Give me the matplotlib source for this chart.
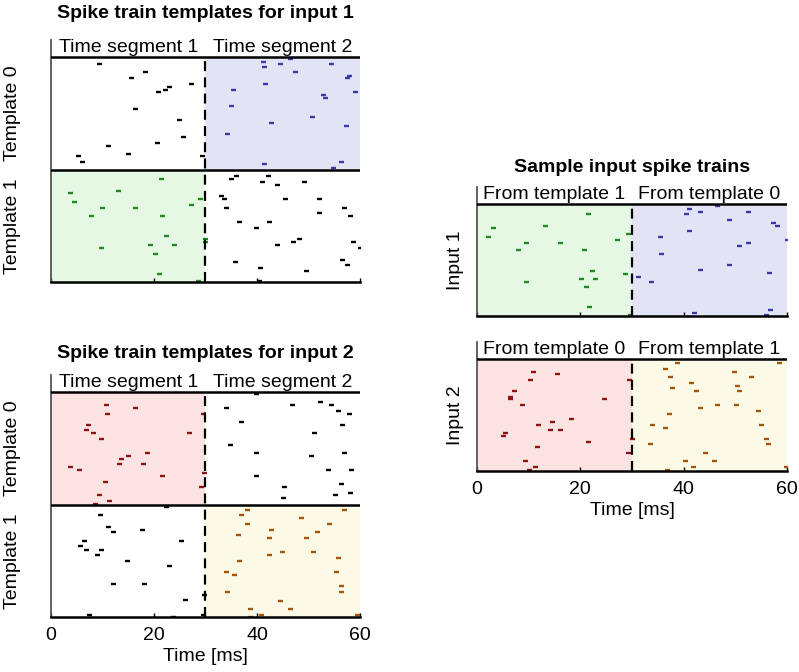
import numpy as np
import matplotlib.pyplot as plt

plt.rcParams['font.family'] = ['Liberation Sans', 'DejaVu Sans']
plt.rcParams['font.size'] = 14

# spikes as (time [ms], neuron row 0..40 inside one template band)
# input 1, template 0
in1_tmpl0_seg1 = [(9.4, 37.5), (18.3, 34.5), (15.5, 32.4), (27.1, 30.5), (22.9, 29.4),
                  (22.1, 28.4), (20.8, 27.5), (16.4, 21.4), (24.9, 17.7), (25.6, 11.6),
                  (20.6, 9.6), (11.0, 8.5), (15.0, 5.6), (5.2, 4.7), (6.1, 2.7), (29.4, 4.7)]
in1_tmpl0_seg2 = [(41.1, 38.4), (46.4, 39.4), (41.4, 36.4), (44.5, 37.4), (54.3, 37.4),
                  (47.4, 34.5), (57.9, 33.3), (57.5, 32.4), (41.6, 30.5), (35.3, 28.4),
                  (59.0, 27.5), (52.9, 26.4), (53.3, 25.5), (34.9, 22.5), (50.7, 18.5),
                  (42.8, 16.5), (57.3, 15.6), (34.2, 12.5), (56.4, 2.7), (41.3, 1.8),
                  (54.8, 0.7)]
# input 1, template 1
in1_tmpl1_seg1 = [(21.4, 36.6), (13.1, 32.5), (3.6, 31.5), (4.4, 28.5), (28.9, 29.4),
                  (27.1, 27.4), (10.0, 26.4), (16.3, 26.4), (7.8, 23.3), (21.6, 23.3),
                  (22.3, 16.2), (29.9, 15.2), (29.9, 14.2), (19.3, 13.2), (23.9, 13.2),
                  (9.7, 12.1), (20.1, 10.1), (21.0, 3.0), (28.5, 0.2)]
in1_tmpl1_seg2 = [(36.0, 37.6), (35.0, 36.6), (42.1, 37.6), (41.0, 35.5), (43.9, 34.6),
                  (49.2, 35.5), (33.1, 30.5), (33.6, 29.4), (45.4, 29.4), (52.0, 29.4),
                  (33.9, 26.4), (56.9, 26.4), (52.1, 24.4), (58.1, 23.3), (36.6, 21.2),
                  (42.4, 21.2), (39.8, 19.3), (48.1, 15.2), (47.0, 14.2), (43.9, 13.2),
                  (58.6, 14.2), (60.0, 12.1), (56.6, 8.0), (57.4, 6.1), (35.7, 7.1),
                  (40.5, 5.0), (49.6, 4.0), (40.4, 0.2)]
# input 2, template 0
in2_tmpl0_seg1 = [(10.7, 35.5), (16.3, 34.2), (10.9, 32.3), (29.6, 32.3), (7.1, 28.2),
                  (6.8, 26.4), (8.2, 25.3), (26.7, 25.3), (9.8, 23.4), (18.6, 18.2),
                  (15.0, 17.2), (13.6, 16.3), (13.3, 14.3), (17.9, 14.3), (3.6, 13.3),
                  (5.4, 12.3), (29.8, 11.2), (21.6, 10.3), (10.4, 8.1), (29.1, 6.3),
                  (9.4, 3.3), (11.3, 1.1), (8.6, 0.2)]
in2_tmpl0_seg2 = [(39.8, 39.3), (33.9, 34.2), (46.7, 35.4), (52.2, 36.5), (54.4, 35.4),
                  (55.7, 33.4), (57.8, 32.3), (36.8, 29.4), (56.5, 28.2), (51.1, 25.3),
                  (34.7, 21.2), (39.9, 18.2), (50.5, 17.2), (56.9, 18.2), (53.7, 12.3),
                  (58.2, 12.3), (39.8, 10.3), (56.4, 7.2), (45.2, 6.3), (58.0, 4.2),
                  (55.2, 3.3), (45.1, 2.2)]
# input 2, template 1
in2_tmpl1_seg1 = [(22.3, 39.2), (9.6, 36.2), (11.1, 32.1), (12.0, 30.1), (17.6, 31.1),
                  (6.4, 27.1), (25.2, 27.1), (5.6, 25.1), (6.8, 24.0), (9.8, 24.0),
                  (8.9, 22.0), (14.8, 20.0), (23.0, 18.0), (12.0, 11.9), (18.0, 11.9),
                  (29.8, 8.0), (26.1, 6.0), (7.4, 0.8), (23.6, 0.1), (29.6, 0.8)]
in2_tmpl1_seg2 = [(38.1, 38.2), (56.9, 38.2), (36.8, 36.2), (48.5, 35.1), (38.0, 33.2),
                  (53.9, 33.2), (42.7, 31.1), (51.6, 30.1), (36.4, 29.0), (42.3, 28.1),
                  (49.5, 28.1), (44.8, 23.1), (50.8, 23.1), (42.3, 22.0), (55.7, 21.1),
                  (36.6, 20.0), (33.9, 16.0), (35.5, 15.0), (55.3, 16.0), (56.3, 11.0),
                  (34.2, 8.9), (56.3, 8.9), (44.5, 5.8), (38.7, 2.9), (46.5, 2.9),
                  (40.8, 0.8), (38.6, 0.1), (59.4, 0.8)]
# sample input trains
sample1_seg1 = [(21.4, 36.3), (3.0, 31.3), (2.1, 28.1), (13.2, 32.2), (9.5, 26.2),
                (16.1, 26.2), (7.9, 23.4), (20.8, 23.4), (27.0, 27.2), (29.2, 29.2),
                (22.3, 16.2), (28.6, 15.1), (20.1, 13.2), (22.8, 13.2), (9.5, 12.2),
                (21.0, 10.2), (21.6, 3.2), (29.7, 0.2)]
sample1_seg2 = [(41.0, 38.2), (43.1, 37.2), (40.4, 36.3), (46.5, 39.2), (52.4, 37.2),
                (48.7, 34.3), (57.3, 33.3), (58.1, 32.2), (41.0, 30.2), (35.4, 28.1),
                (60.0, 27.2), (52.4, 26.2), (50.8, 25.1), (35.6, 22.2), (48.8, 18.2),
                (43.1, 16.3), (56.6, 15.2), (31.1, 14.1), (33.7, 12.2), (56.8, 2.2),
                (42.0, 1.2), (56.0, 0.2)]
sample2_seg1 = [(10.9, 35.5), (15.5, 34.5), (10.2, 32.5), (29.5, 32.5), (7.2, 28.4),
                (6.3, 26.5), (6.3, 25.6), (8.8, 23.5), (24.6, 25.6), (18.1, 18.5),
                (14.6, 17.6), (11.8, 16.5), (14.2, 14.6), (16.0, 14.6), (5.4, 13.4),
                (5.0, 12.5), (21.4, 10.5), (11.6, 8.5), (29.2, 6.6), (30.0, 11.6),
                (9.2, 3.5), (11.2, 1.6), (10.1, 0.5)]
sample2_seg2 = [(38.8, 38.4), (58.5, 38.4), (36.3, 36.4), (49.7, 35.5), (37.3, 33.4),
                (53.0, 33.4), (41.4, 31.5), (50.3, 30.4), (37.8, 29.5), (42.3, 28.4),
                (50.8, 28.4), (46.5, 23.5), (50.2, 23.5), (43.2, 22.4), (37.2, 20.5),
                (54.4, 21.5), (33.9, 16.5), (36.3, 15.5), (55.0, 16.5), (56.0, 11.6),
                (33.4, 9.6), (56.3, 9.6), (44.1, 6.6), (40.3, 3.5), (45.9, 3.5),
                (41.8, 1.6), (36.8, 0.5), (59.9, 1.6)]

BLUE, BLUE_BG = '#3a3aa6', '#e3e3f6'
GREEN, GREEN_BG = '#1f8a1f', '#e5f8e3'
RED, RED_BG = '#8e1414', '#fce3e3'
ORANGE, ORANGE_BG = '#a4560c', '#fbfae6'
HEADER = 6

W, H = 799, 672
fig = plt.figure(figsize=(W / 100, H / 100), dpi=100)


def add_axes(x0, x1, header_px, bottom_px, n_bands):
    top_px = header_px - HEADER * (bottom_px - header_px) / (40 * n_bands)
    return fig.add_axes([x0 / W, 1 - bottom_px / H, (x1 - x0) / W, (bottom_px - top_px) / H])


def setup(ax, n_bands, labels, show_labels):
    top = 40 * n_bands
    ax.set_xlim(0, 60)
    ax.set_ylim(0, top + HEADER)
    ax.spines['top'].set_visible(False)
    ax.spines['right'].set_visible(False)
    ax.spines['left'].set_color('#555555')
    ax.spines['left'].set_linewidth(1.3)
    ax.spines['bottom'].set_linewidth(1.8)
    for k in range(1, n_bands + 1):
        ax.axhline(40 * k, color='black', lw=1.8, zorder=3)
    ax.plot([30, 30], [0, top], color='black', lw=1.6, dashes=(4.5, 2.8), zorder=3)
    ax.text(15, top + 0.4, labels[0], ha='center', va='bottom')
    ax.text(45, top + 0.4, labels[1], ha='center', va='bottom')
    ax.set_yticks([])
    ax.set_xticks([0, 20, 40, 60])
    ax.tick_params(direction='in', length=3, width=1, pad=7)
    if not show_labels:
        ax.set_xticklabels([])
    else:
        ax.set_xlabel('Time [ms]', labelpad=3)


def band(ax, x0, x1, y0, color):
    ax.fill_between([x0, x1], y0, y0 + 40, color=color, lw=0, zorder=0)


def raster(ax, spikes, offset, color):
    t, n = np.array(spikes).T
    ax.plot(t, n + offset, ls='none', marker='_', ms=3.6, mew=1.7, color=color, zorder=2)


def ylabel(ax, dx, y, text):
    ax.text(dx, y, text, rotation=90, ha='center', va='center',
            transform=ax.get_yaxis_transform())


seg_labels = ('Time segment 1', 'Time segment 2')

# templates for input 1
ax1 = add_axes(51, 360, 57, 282, 2)
setup(ax1, 2, seg_labels, False)
band(ax1, 30, 60, 40, BLUE_BG)
band(ax1, 0, 30, 0, GREEN_BG)
raster(ax1, in1_tmpl0_seg1, 40, 'black')
raster(ax1, in1_tmpl0_seg2, 40, BLUE)
raster(ax1, in1_tmpl1_seg1, 0, GREEN)
raster(ax1, in1_tmpl1_seg2, 0, 'black')
ylabel(ax1, -0.125, 60, 'Template 0')
ylabel(ax1, -0.125, 20, 'Template 1')

# templates for input 2
ax2 = add_axes(51, 360, 392, 617, 2)
setup(ax2, 2, seg_labels, True)
band(ax2, 0, 30, 40, RED_BG)
band(ax2, 30, 60, 0, ORANGE_BG)
raster(ax2, in2_tmpl0_seg1, 40, RED)
raster(ax2, in2_tmpl0_seg2, 40, 'black')
raster(ax2, in2_tmpl1_seg1, 0, 'black')
raster(ax2, in2_tmpl1_seg2, 0, ORANGE)
ylabel(ax2, -0.125, 60, 'Template 0')
ylabel(ax2, -0.125, 20, 'Template 1')

# sample inputs
ax3 = add_axes(477, 787, 204, 316, 1)
setup(ax3, 1, ('From template 1', 'From template 0'), False)
band(ax3, 0, 30, 0, GREEN_BG)
band(ax3, 30, 60, 0, BLUE_BG)
raster(ax3, sample1_seg1, 0, GREEN)
raster(ax3, sample1_seg2, 0, BLUE)
ylabel(ax3, -0.068, 20, 'Input 1')

ax4 = add_axes(477, 787, 359, 471, 1)
setup(ax4, 1, ('From template 0', 'From template 1'), True)
band(ax4, 0, 30, 0, RED_BG)
band(ax4, 30, 60, 0, ORANGE_BG)
raster(ax4, sample2_seg1, 0, RED)
raster(ax4, sample2_seg2, 0, ORANGE)
ylabel(ax4, -0.068, 20, 'Input 2')

fig.text(205 / W, 1 - 14 / H, 'Spike train templates for input 1',
         ha='center', va='center', fontweight='bold')
fig.text(205 / W, 1 - 353 / H, 'Spike train templates for input 2',
         ha='center', va='center', fontweight='bold')
fig.text(632 / W, 1 - 167 / H, 'Sample input spike trains',
         ha='center', va='center', fontweight='bold')

fig.savefig('out.png', dpi=100)
